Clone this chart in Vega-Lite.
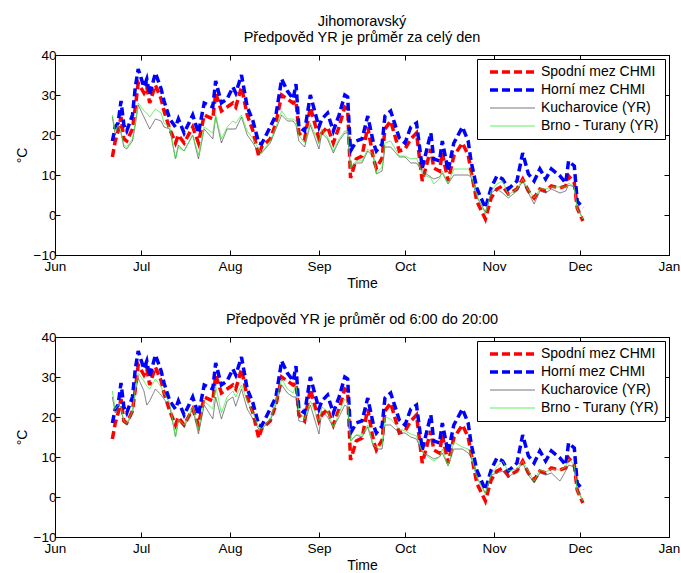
{
  "$schema": "https://vega.github.io/schema/vega-lite/v6.json",
  "padding": {"left": 14, "top": 13, "right": 10, "bottom": 2},
  "background": "white",
  "config": {
    "font": "Liberation Sans",
    "view": {"stroke": "black", "strokeWidth": 1},
    "axis": {
      "grid": false, "domainColor": "black", "tickColor": "black", "labelColor": "black",
      "titleColor": "black", "labelFontSize": 13.5, "titleFontSize": 14, "titleFontWeight": "normal",
      "tickSize": -5, "labelPadding": 4, "labelFont": "Liberation Sans", "titleFont": "Liberation Sans"
    },
    "axisX": {"labelPadding": 9, "titlePadding": 4},
    "title": {"fontSize": 14.5, "fontWeight": "normal", "font": "Liberation Sans", "color": "black", "offset": 3, "lineHeight": 16},
    "legend": {
      "orient": "top-right", "offset": 4, "strokeColor": "black", "fillColor": "white", "padding": 6,
      "labelFontSize": 14, "labelFont": "Liberation Sans", "labelColor": "black",
      "symbolType": "M0,0H9", "symbolSize": 100, "labelOffset": 44, "rowPadding": 4, "cornerRadius": 0
    }
  },
  "datasets": {
    "t": [
      {"d":"2012-06-21","lo":14.5,"hi":18.5,"k1":24.5,"b1":25,"k2":25,"b2":26.5},
      {"d":"2012-06-22","lo":18.5,"hi":22,"k1":20,"b1":21,"k2":21,"b2":22},
      {"d":"2012-06-23","lo":21,"hi":23,"k1":22,"b1":22.5,"k2":22,"b2":23},
      {"d":"2012-06-24","lo":24.5,"hi":28.5,"k1":20.5,"b1":21,"k2":22,"b2":22.5},
      {"d":"2012-06-25","lo":19,"hi":22.5,"k1":17,"b1":17.5,"k2":18.5,"b2":19},
      {"d":"2012-06-26","lo":18.5,"hi":21,"k1":16.5,"b1":17,"k2":18,"b2":18.5},
      {"d":"2012-06-28","lo":21.5,"hi":25,"k1":18.5,"b1":19,"k2":21,"b2":21.5},
      {"d":"2012-06-29","lo":27,"hi":32,"k1":22.5,"b1":23.5,"k2":26,"b2":27},
      {"d":"2012-06-30","lo":33,"hi":36.5,"k1":27.5,"b1":28,"k2":29.7,"b2":31},
      {"d":"2012-07-02","lo":30.5,"hi":32,"k1":24.5,"b1":26,"k2":26.5,"b2":29},
      {"d":"2012-07-03","lo":32,"hi":34,"k1":23,"b1":25.5,"k2":23,"b2":27.7},
      {"d":"2012-07-04","lo":28,"hi":30,"k1":21.5,"b1":24.5,"k2":24,"b2":27},
      {"d":"2012-07-06","lo":32.5,"hi":35.5,"k1":24,"b1":26.5,"k2":27,"b2":29.5},
      {"d":"2012-07-08","lo":29,"hi":31.5,"k1":23.5,"b1":25.5,"k2":25.5,"b2":27.5},
      {"d":"2012-07-09","lo":26,"hi":28.5,"k1":22,"b1":23,"k2":24.5,"b2":26},
      {"d":"2012-07-11","lo":21.5,"hi":24,"k1":21.5,"b1":22,"k2":22.5,"b2":23.5},
      {"d":"2012-07-13","lo":18,"hi":22,"k1":14,"b1":14,"k2":15,"b2":15},
      {"d":"2012-07-14","lo":20,"hi":24,"k1":17.5,"b1":17,"k2":19,"b2":19.5},
      {"d":"2012-07-16","lo":18,"hi":20.5,"k1":16,"b1":16,"k2":17.5,"b2":18},
      {"d":"2012-07-19","lo":22,"hi":25,"k1":20,"b1":20,"k2":22,"b2":22.5},
      {"d":"2012-07-21","lo":18,"hi":20.5,"k1":14,"b1":15,"k2":15.75,"b2":17},
      {"d":"2012-07-23","lo":25,"hi":28,"k1":21.5,"b1":22,"k2":23,"b2":24},
      {"d":"2012-07-26","lo":24,"hi":27,"k1":19,"b1":20.5,"k2":19.5,"b2":22},
      {"d":"2012-07-27","lo":30.5,"hi":33.5,"k1":24.5,"b1":25,"k2":25,"b2":27.7},
      {"d":"2012-07-29","lo":26,"hi":28,"k1":18,"b1":19,"k2":19.5,"b2":21},
      {"d":"2012-07-31","lo":27,"hi":29,"k1":21.5,"b1":22,"k2":24,"b2":25},
      {"d":"2012-08-02","lo":28,"hi":32,"k1":21.5,"b1":23.5,"k2":25,"b2":26.5},
      {"d":"2012-08-03","lo":27,"hi":30.5,"k1":21.5,"b1":23,"k2":22.7,"b2":25},
      {"d":"2012-08-05","lo":32,"hi":35,"k1":24.5,"b1":25,"k2":27,"b2":28},
      {"d":"2012-08-07","lo":25,"hi":27,"k1":20,"b1":21,"k2":22,"b2":24},
      {"d":"2012-08-09","lo":21,"hi":23.5,"k1":18,"b1":19,"k2":19.5,"b2":21},
      {"d":"2012-08-11","lo":14.75,"hi":18,"k1":15.5,"b1":16.5,"k2":17,"b2":17.5},
      {"d":"2012-08-12","lo":17,"hi":17.75,"k1":15.5,"b1":15.5,"k2":17,"b2":17},
      {"d":"2012-08-15","lo":19,"hi":22,"k1":18,"b1":18.5,"k2":19,"b2":19.5},
      {"d":"2012-08-17","lo":23,"hi":25,"k1":21.5,"b1":22,"k2":23,"b2":24},
      {"d":"2012-08-19","lo":30,"hi":34,"k1":25,"b1":26,"k2":28,"b2":29.5},
      {"d":"2012-08-21","lo":29,"hi":31,"k1":23.5,"b1":24,"k2":26,"b2":27},
      {"d":"2012-08-23","lo":28,"hi":29,"k1":23.5,"b1":24,"k2":25,"b2":26},
      {"d":"2012-08-24","lo":28.5,"hi":32.7,"k1":22.5,"b1":23.5,"k2":25,"b2":28},
      {"d":"2012-08-25","lo":20.5,"hi":22,"k1":18.5,"b1":20,"k2":19,"b2":21.5},
      {"d":"2012-08-27","lo":19,"hi":21,"k1":17,"b1":18,"k2":18.7,"b2":19.5},
      {"d":"2012-08-29","lo":27,"hi":30,"k1":22.5,"b1":23,"k2":23,"b2":24},
      {"d":"2012-09-01","lo":19,"hi":22,"k1":16.5,"b1":18,"k2":15.75,"b2":19},
      {"d":"2012-09-02","lo":20.5,"hi":24,"k1":20.5,"b1":21.5,"k2":21.5,"b2":22.5},
      {"d":"2012-09-04","lo":22,"hi":25.5,"k1":19,"b1":19.5,"k2":20,"b2":21.5},
      {"d":"2012-09-06","lo":18,"hi":21,"k1":15.5,"b1":16,"k2":17.5,"b2":17.5},
      {"d":"2012-09-08","lo":22,"hi":25,"k1":18.5,"b1":19,"k2":20,"b2":21},
      {"d":"2012-09-10","lo":27,"hi":30,"k1":20.5,"b1":21,"k2":23,"b2":24.5},
      {"d":"2012-09-11","lo":26.5,"hi":29.5,"k1":20.5,"b1":21,"k2":22.5,"b2":23.5},
      {"d":"2012-09-12","lo":9.25,"hi":16,"k1":11.75,"b1":11.75,"k2":14,"b2":14},
      {"d":"2012-09-14","lo":14,"hi":18.5,"k1":13,"b1":13.5,"k2":15.5,"b2":15.5},
      {"d":"2012-09-16","lo":14.75,"hi":19,"k1":13,"b1":13.5,"k2":15,"b2":15.5},
      {"d":"2012-09-18","lo":22,"hi":24.75,"k1":16,"b1":16.5,"k2":17.5,"b2":18},
      {"d":"2012-09-20","lo":14,"hi":18,"k1":14.5,"b1":15,"k2":12.5,"b2":13},
      {"d":"2012-09-21","lo":11.75,"hi":16,"k1":10.25,"b1":10.5,"k2":12,"b2":12.5},
      {"d":"2012-09-23","lo":14.25,"hi":17.75,"k1":11,"b1":12,"k2":12,"b2":13},
      {"d":"2012-09-24","lo":21.5,"hi":24.75,"k1":17,"b1":18,"k2":18,"b2":20},
      {"d":"2012-09-26","lo":23.5,"hi":26,"k1":17,"b1":18.5,"k2":18,"b2":19.5},
      {"d":"2012-09-29","lo":16,"hi":19.25,"k1":14.5,"b1":14.75,"k2":16,"b2":17},
      {"d":"2012-10-01","lo":16.5,"hi":18,"k1":14.5,"b1":14.75,"k2":16,"b2":16.5},
      {"d":"2012-10-03","lo":19,"hi":22,"k1":13,"b1":14,"k2":15,"b2":15.75},
      {"d":"2012-10-05","lo":20.5,"hi":23,"k1":13,"b1":14.25,"k2":14.5,"b2":15.25},
      {"d":"2012-10-07","lo":8.5,"hi":11.75,"k1":11,"b1":10.25,"k2":11.25,"b2":11.25},
      {"d":"2012-10-10","lo":16.5,"hi":20.5,"k1":9.5,"b1":9.25,"k2":10,"b2":9.5},
      {"d":"2012-10-11","lo":11.75,"hi":14,"k1":9,"b1":7.75,"k2":9.5,"b2":9},
      {"d":"2012-10-13","lo":11,"hi":13.5,"k1":9.5,"b1":9,"k2":10,"b2":10},
      {"d":"2012-10-14","lo":15.5,"hi":18.5,"k1":10.5,"b1":11,"k2":11,"b2":12},
      {"d":"2012-10-16","lo":8.5,"hi":11,"k1":7.75,"b1":7.75,"k2":7.75,"b2":7.75},
      {"d":"2012-10-18","lo":14.75,"hi":18,"k1":10,"b1":11.5,"k2":12,"b2":13.75},
      {"d":"2012-10-21","lo":18,"hi":22,"k1":10,"b1":11.5,"k2":12,"b2":12.5},
      {"d":"2012-10-23","lo":15,"hi":18.5,"k1":10,"b1":11.5,"k2":11,"b2":12},
      {"d":"2012-10-24","lo":11,"hi":13.5,"k1":9.5,"b1":10.25,"k2":10,"b2":10.75},
      {"d":"2012-10-26","lo":3.5,"hi":6.75,"k1":4.5,"b1":5,"k2":5,"b2":5},
      {"d":"2012-10-29","lo":-1,"hi":1.75,"k1":0.75,"b1":0.25,"k2":1,"b2":0.75},
      {"d":"2012-10-31","lo":4.25,"hi":6.75,"k1":5.5,"b1":6,"k2":5.5,"b2":5.75},
      {"d":"2012-11-02","lo":6.5,"hi":9.75,"k1":6.5,"b1":7.75,"k2":6,"b2":7.5},
      {"d":"2012-11-04","lo":7.25,"hi":9,"k1":5.5,"b1":8.5,"k2":6.5,"b2":9},
      {"d":"2012-11-06","lo":5.25,"hi":6.5,"k1":4.25,"b1":5,"k2":5,"b2":6.5},
      {"d":"2012-11-09","lo":6.5,"hi":8.5,"k1":6,"b1":6.5,"k2":6.5,"b2":7},
      {"d":"2012-11-11","lo":9,"hi":15.5,"k1":8.5,"b1":9,"k2":8.5,"b2":9},
      {"d":"2012-11-13","lo":6,"hi":10.25,"k1":5.5,"b1":6.25,"k2":5.5,"b2":6.5},
      {"d":"2012-11-15","lo":4.25,"hi":8.5,"k1":2.75,"b1":4.25,"k2":3.5,"b2":4},
      {"d":"2012-11-17","lo":6.5,"hi":11.5,"k1":6,"b1":6.5,"k2":6,"b2":6.75},
      {"d":"2012-11-19","lo":6,"hi":9,"k1":5.5,"b1":6.5,"k2":5.5,"b2":6.25},
      {"d":"2012-11-21","lo":7.25,"hi":11.5,"k1":6.5,"b1":7,"k2":6,"b2":7},
      {"d":"2012-11-24","lo":6.75,"hi":9.75,"k1":5.5,"b1":7,"k2":4,"b2":6.75},
      {"d":"2012-11-26","lo":7.25,"hi":8,"k1":6,"b1":7,"k2":6.5,"b2":7.5},
      {"d":"2012-11-27","lo":9.75,"hi":13.5,"k1":7.5,"b1":8,"k2":8,"b2":9.5},
      {"d":"2012-11-29","lo":8,"hi":12.25,"k1":7,"b1":7,"k2":7.5,"b2":8},
      {"d":"2012-11-30","lo":1.75,"hi":3.5,"k1":2,"b1":1.5,"k2":2,"b2":1.5},
      {"d":"2012-12-02","lo":-1.5,"hi":1.75,"k1":-1,"b1":-1,"k2":-1,"b2":-1}
    ]
  },
  "vconcat": [
    {
      "width": 614, "height": 200,
      "title": {"text": ["Jihomoravský", "Předpověd YR je průměr za celý den"]},
      "data": {"name": "t"},
      "transform": [{"fold": ["lo", "hi", "k1", "b1"], "as": ["s", "v"]}],
      "layer": [
        {
          "mark": {"type": "line", "clip": true},
          "encoding": {
            "x": {"field": "d", "type": "temporal", "title": "Time",
                  "scale": {"domain": ["2012-06-01", "2013-01-01"]},
                  "axis": {"format": "%b", "tickCount": {"interval": "month", "step": 1}, "labelFlush": false}},
            "y": {"field": "v", "type": "quantitative", "title": "°C",
                  "scale": {"domain": [-10, 40], "nice": false},
                  "axis": {"values": [-10, 0, 10, 20, 30, 40]}},
            "color": {"field": "s", "type": "nominal", "title": null,
                      "scale": {"domain": ["lo", "hi", "k1", "b1"], "range": ["#ff0000", "#0000ff", "#555555", "#33ee33"]},
                      "legend": {"labelExpr": "({'lo':'Spodní mez CHMI','hi':'Horní mez CHMI','k1':'Kucharovice (YR)','b1':'Brno - Turany (YR)'})[datum.label]"}},
            "strokeDash": {"field": "s", "type": "nominal", "title": null,
                           "scale": {"domain": ["lo", "hi", "k1", "b1"], "range": [[8, 4], [8, 4], [1, 0], [1, 0]]}},
            "strokeWidth": {"field": "s", "type": "nominal", "title": null,
                            "scale": {"type": "ordinal", "domain": ["lo", "hi", "k1", "b1"], "range": [3.5, 3.5, 0.8, 0.8]}}
          }
        },
        {
          "mark": {"type": "point", "opacity": 0},
          "encoding": {
            "x": {"field": "d", "type": "temporal", "axis": {"orient": "top", "labels": false, "title": null, "tickCount": {"interval": "month", "step": 1}}},
            "y": {"field": "v", "type": "quantitative", "axis": {"orient": "right", "labels": false, "title": null, "values": [-10, 0, 10, 20, 30, 40]}}
          }
        }
      ],
      "resolve": {"axis": {"x": "independent", "y": "independent"}}
    },
    {
      "width": 614, "height": 200,
      "title": {"text": "Předpověd YR je průměr od 6:00 do 20:00"},
      "data": {"name": "t"},
      "transform": [{"fold": ["lo", "hi", "k2", "b2"], "as": ["s", "v"]}],
      "layer": [
        {
          "mark": {"type": "line", "clip": true},
          "encoding": {
            "x": {"field": "d", "type": "temporal", "title": "Time",
                  "scale": {"domain": ["2012-06-01", "2013-01-01"]},
                  "axis": {"format": "%b", "tickCount": {"interval": "month", "step": 1}, "labelFlush": false}},
            "y": {"field": "v", "type": "quantitative", "title": "°C",
                  "scale": {"domain": [-10, 40], "nice": false},
                  "axis": {"values": [-10, 0, 10, 20, 30, 40]}},
            "color": {"field": "s", "type": "nominal", "title": null,
                      "scale": {"domain": ["lo", "hi", "k2", "b2"], "range": ["#ff0000", "#0000ff", "#555555", "#33ee33"]},
                      "legend": {"labelExpr": "({'lo':'Spodní mez CHMI','hi':'Horní mez CHMI','k2':'Kucharovice (YR)','b2':'Brno - Turany (YR)'})[datum.label]"}},
            "strokeDash": {"field": "s", "type": "nominal", "title": null,
                           "scale": {"domain": ["lo", "hi", "k2", "b2"], "range": [[8, 4], [8, 4], [1, 0], [1, 0]]}},
            "strokeWidth": {"field": "s", "type": "nominal", "title": null,
                            "scale": {"type": "ordinal", "domain": ["lo", "hi", "k2", "b2"], "range": [3.5, 3.5, 0.8, 0.8]}}
          }
        },
        {
          "mark": {"type": "point", "opacity": 0},
          "encoding": {
            "x": {"field": "d", "type": "temporal", "axis": {"orient": "top", "labels": false, "title": null, "tickCount": {"interval": "month", "step": 1}}},
            "y": {"field": "v", "type": "quantitative", "axis": {"orient": "right", "labels": false, "title": null, "values": [-10, 0, 10, 20, 30, 40]}}
          }
        }
      ],
      "resolve": {"axis": {"x": "independent", "y": "independent"}}
    }
  ],
  "spacing": 20,
  "resolve": {"scale": {"color": "independent", "strokeDash": "independent", "strokeWidth": "independent", "x": "independent", "y": "independent"}}
}
